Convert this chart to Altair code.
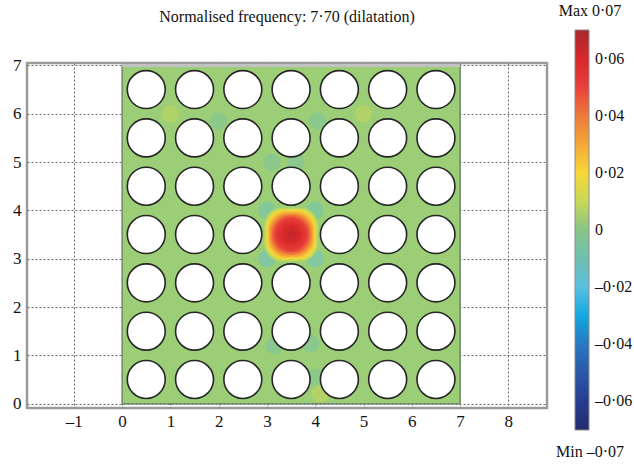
import altair as alt
import pandas as pd

# ---------------- data ----------------
title_text = ["Normalised frequency: 7·70 (dilatation)"]
max_label = ["Max 0·07"]
min_label = ["Min –0·07"]

x_ticks = [-1, 0, 1, 2, 3, 4, 5, 6, 7, 8]
y_ticks = [0, 1, 2, 3, 4, 5, 6, 7]
cbar_ticks = [-0.06, -0.04, -0.02, 0, 0.02, 0.04, 0.06]

cmap_domain = [-0.07, -0.06, -0.05, -0.04, -0.03, -0.02, -0.01, 0.0,
               0.01, 0.02, 0.03, 0.04, 0.05, 0.06, 0.07]
cmap_colors = ["#242c6c", "#283c90", "#2a58a8", "#2878c0", "#10a8e0",
               "#5cc0e0", "#70c0b0", "#88c488", "#c8d858", "#f8d838",
               "#f4a838", "#ee7a3a", "#e8403a", "#d8282a", "#a8282e"]

# square computational domain
dom_x0, dom_x1 = [0.0], [7.0]
dom_y0, dom_y1 = [0.0], [7.0]
bg_value = [0.004]

# lattice of holes (7 x 7, the centre one missing = defect)
hole_cols = [0.5, 1.5, 2.5, 3.5, 4.5, 5.5, 6.5]
hole_rows = [0.5, 1.5, 2.5, 3.5, 4.5, 5.5, 6.5]
defect = (3.5, 3.5)

# localised defect mode: contour half-widths and values
peak_cx, peak_cy = [3.5], [3.5]
peak_half = [0.56, 0.535, 0.51, 0.485, 0.46, 0.43, 0.40, 0.36, 0.31, 0.26, 0.20, 0.14, 0.08]
peak_val = [0.008, 0.013, 0.018, 0.024, 0.030, 0.037, 0.044, 0.050, 0.054, 0.057, 0.060, 0.062, 0.064]

# small background variations between holes
spot_x = [3.0, 4.0, 3.0, 4.0, 3.1, 3.6, 4.05, 2.0, 3.15, 3.9, 4.0, 4.1, 0.3, 5.0, 1.0]
spot_y = [3.0, 3.0, 4.0, 4.0, 5.0, 5.0, 5.85, 5.85, 1.2, 1.25, 0.55, 0.2, 0.6, 6.0, 6.0]
spot_val = [-0.02, -0.02, -0.016, -0.016, -0.01, -0.008, -0.01, -0.006, -0.01, -0.01,
            -0.006, 0.014, -0.005, 0.012, 0.012]

# ---------------- tables ----------------
dom_df = pd.DataFrame({"x": dom_x0, "x2": dom_x1, "y": dom_y0, "y2": dom_y1, "v": bg_value})
holes_df = pd.DataFrame([(cx, cy) for cy in hole_rows for cx in hole_cols
                         if (cx, cy) != defect], columns=["x", "y"])
peak_df = pd.DataFrame({"h": peak_half, "v": peak_val})
peak_df["x"] = peak_cx[0] - peak_df["h"]
peak_df["x2"] = peak_cx[0] + peak_df["h"]
peak_df["y"] = peak_cy[0] - peak_df["h"]
peak_df["y2"] = peak_cy[0] + peak_df["h"]
spot_df = pd.DataFrame({"x": spot_x, "y": spot_y, "v": spot_val})
top_df = pd.DataFrame({"x": dom_x0, "x2": dom_x1, "y": dom_y1})

FONT = "Liberation Serif"

xscale = alt.Scale(domain=[-1.97, 8.8], nice=False, zero=False)
yscale = alt.Scale(domain=[-0.09, 7.05], nice=False, zero=False)
cscale = alt.Scale(domain=cmap_domain, range=cmap_colors)

xaxis = alt.Axis(values=x_ticks, grid=True, gridDash=[2, 2], gridColor="#6a6a6a",
                 gridWidth=1, domain=False, ticks=False, labelPadding=5,
                 labelFont=FONT, labelFontSize=17, labelColor="#111",
                 labelExpr="datum.value < 0 ? '–' + abs(datum.value) : datum.label",
                 title=None)
yaxis = alt.Axis(values=y_ticks, grid=True, gridDash=[2, 2], gridColor="#6a6a6a",
                 gridWidth=1, domain=False, ticks=False, labelPadding=6,
                 labelFont=FONT, labelFontSize=17, labelColor="#111", title=None)

legend = alt.Legend(orient="none", legendX=548, legendY=-33, direction="vertical",
                    gradientLength=400, gradientThickness=14, values=cbar_ticks,
                    labelExpr="datum.value == 0 ? '0' : (datum.value < 0 ? '–' : '') + replace(format(abs(datum.value), '.2f'), '.', '·')",
                    labelFont=FONT, labelFontSize=16, labelColor="#111", labelOffset=6,
                    labelOverlap=False, gradientStrokeColor="#8a8a8a",
                    gradientStrokeWidth=1, padding=0, title=None)

X = alt.X("x:Q", scale=xscale, axis=xaxis)
Y = alt.Y("y:Q", scale=yscale, axis=yaxis)
color = alt.Color("v:Q", scale=cscale, legend=legend)

field = alt.Chart(dom_df).mark_rect(stroke="#6f8a6f", strokeWidth=1.5).encode(
    x=X, x2="x2:Q", y=Y, y2="y2:Q", color=color,
)

spots = alt.Chart(spot_df).mark_circle(size=300, fillOpacity=0.4).encode(
    x=X, y=Y, color=color,
)

peak = alt.Chart(peak_df).mark_rect(cornerRadius=18).encode(
    x=X, x2="x2:Q", y=Y, y2="y2:Q", color=color,
    order=alt.Order("v:Q"),
)

top_strip = alt.Chart(top_df).mark_rule(color="#c2c2c2", strokeWidth=3).encode(
    x=X, x2="x2:Q", y=Y,
)

holes = alt.Chart(holes_df).mark_point(shape="circle", filled=False, fill="white",
                                       fillOpacity=1, stroke="#262626", strokeWidth=1.6,
                                       size=1440, opacity=1).encode(
    x=X, y=Y,
)

def label(txt, px, py):
    return alt.Chart(pd.DataFrame({"t": txt})).mark_text(
        font=FONT, fontSize=16, color="#111", align="center", baseline="middle").encode(
        text="t:N", x=alt.value(px), y=alt.value(py))

title_txt = label(title_text, 260, -46)
max_txt = label(max_label, 563, -52)
min_txt = label(min_label, 563, 389)

chart = alt.layer(field, spots, peak, top_strip, holes, title_txt, max_txt, min_txt).properties(
    width=520, height=345,
    autosize=alt.AutoSizeParams(type="none"),
    padding={"left": 27, "top": 63, "right": 87, "bottom": 59},
    background="white",
).configure_view(stroke="#9a9a9a", strokeWidth=2.5)

chart.save("out.html", embed_options={"renderer": "svg", "actions": False})
